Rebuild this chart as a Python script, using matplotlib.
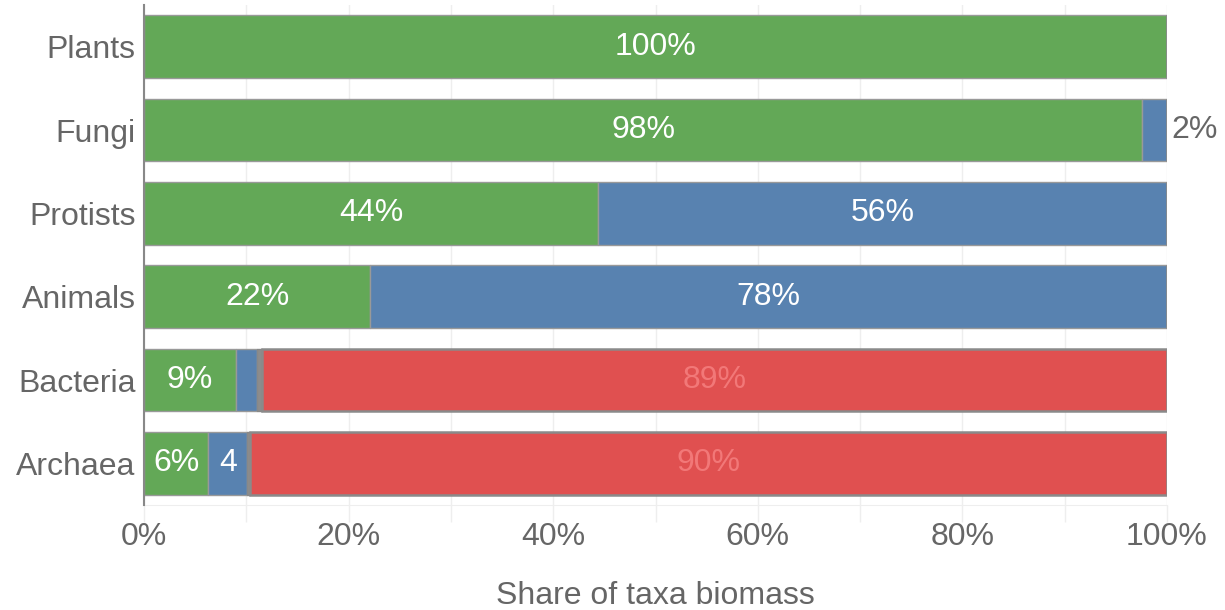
import matplotlib
matplotlib.use("Agg")
import matplotlib.pyplot as plt
from matplotlib.ticker import FixedLocator

plt.rcParams['font.family'] = ['Liberation Sans', 'DejaVu Sans']

categories = ["Plants", "Fungi", "Protists", "Animals", "Bacteria", "Archaea"]
# shares in percent
photo = [100.0, 97.6, 44.4, 22.1, 9.0, 6.3]
hetero = [0.0, 2.4, 55.6, 77.9, 2.0, 3.8]
other = [0.0, 0.0, 0.0, 0.0, 0.5, 0.3]
chemo = [0.0, 0.0, 0.0, 0.0, 88.5, 89.6]

photo_labels = ["100%", "98%", "44%", "22%", "9%", "6%"]
hetero_labels = ["", "2%", "56%", "78%", "", "4"]
chemo_labels = ["", "", "", "", "89%", "90%"]

x_ticks = [0, 20, 40, 60, 80, 100]
x_ticklabels = ["0%", "20%", "40%", "60%", "80%", "100%"]
x_minor = [10, 30, 50, 70, 90]

GREEN = "#63a857"
BLUE = "#5882b0"
GREY = "#8c8c8c"
RED = "#e05050"
TEXT = "#666666"

fig = plt.figure(figsize=(12.25, 6.10), dpi=100)
ax = fig.add_axes([144/1225, 1 - 505/610, (1167-144)/1225, 500/610])

ypos = list(range(len(categories)))
h = 0.75
edge = dict(edgecolor="#999999", linewidth=1.0)
ax.barh(ypos, photo, height=h, color=GREEN, **edge, zorder=3)
left2 = [p for p in photo]
ax.barh(ypos, hetero, left=left2, height=h, color=BLUE, **edge, zorder=3)
left3 = [p + q for p, q in zip(photo, hetero)]
ax.barh(ypos, other, left=left3, height=h, color=GREY, edgecolor="#888888", linewidth=1.0, zorder=3)
left4 = [a + b for a, b in zip(left3, other)]
ax.barh(ypos, chemo, left=left4, height=h, color=RED, edgecolor="#8a8a8a", linewidth=1.8, zorder=3)

fs = 23
for i in ypos:
    if photo_labels[i]:
        ax.text(photo[i] / 2, i, photo_labels[i], ha="center", va="center",
                color="white", fontsize=fs, zorder=5)
    if hetero_labels[i]:
        if hetero[i] < 3 and categories[i] == "Fungi":
            ax.text(left2[i] + hetero[i] + 0.4, i, hetero_labels[i], ha="left", va="center",
                    color=TEXT, fontsize=fs, zorder=5, clip_on=False)
        else:
            ax.text(left2[i] + hetero[i] / 2, i, hetero_labels[i], ha="center", va="center",
                    color="white", fontsize=fs, zorder=5)
    if chemo_labels[i]:
        ax.text(left4[i] + chemo[i] / 2, i, chemo_labels[i], ha="center", va="center",
                color="#f27878", fontsize=fs, zorder=5)

ax.set_xlim(0, 100)
ax.set_ylim(5.5, -0.5)
ax.set_yticks(ypos)
ax.set_yticklabels(categories, fontsize=fs, color=TEXT)
ax.tick_params(axis="y", length=0, pad=6)

ax.xaxis.set_major_locator(FixedLocator(x_ticks))
ax.xaxis.set_minor_locator(FixedLocator(x_minor))
ax.set_xticklabels(x_ticklabels, fontsize=fs, color=TEXT)
ax.tick_params(axis="x", which="both", length=12, color="#eeeeee", width=1, pad=0)
ax.grid(axis="x", which="both", color="#eeeeee", linewidth=1, zorder=0)
ax.set_axisbelow(True)

for s in ["top", "right"]:
    ax.spines[s].set_visible(False)
ax.spines["bottom"].set_color("#eeeeee")
ax.spines["left"].set_color("#888888")
ax.spines["left"].set_linewidth(1.5)
ax.spines["left"].set_zorder(4)

ax.set_xlabel("Share of taxa biomass", fontsize=fs, color=TEXT, labelpad=21)

fig.savefig("out.png", dpi=100)
